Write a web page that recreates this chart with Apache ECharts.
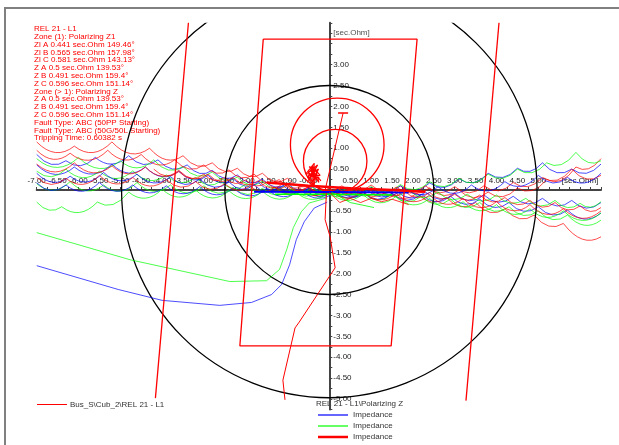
<!DOCTYPE html>
<html><head><meta charset="utf-8">
<script src="https://cdn.jsdelivr.net/npm/echarts/dist/echarts.min.js"></script>
<style>html,body{margin:0;padding:0;background:#fff}#c{width:619px;height:445px}</style>
</head><body><div id="c"></div>
<script>
// ---------- text ----------
const infoLines = [
  'REL 21 - L1',
  'Zone (1): Polarizing Z1',
  'Zl A 0.441 sec.Ohm 149.46°',
  'Zl B 0.565 sec.Ohm 157.98°',
  'Zl C 0.581 sec.Ohm 143.13°',
  'Z A 0.5 sec.Ohm 139.53°',
  'Z B 0.491 sec.Ohm 159.4°',
  'Z C 0.596 sec.Ohm 151.14°',
  'Zone (> 1): Polarizing Z',
  'Z A 0.5 sec.Ohm 139.53°',
  'Z B 0.491 sec.Ohm 159.4°',
  'Z C 0.596 sec.Ohm 151.14°',
  'Fault Type: ABC (50PP Starting)',
  'Fault Type: ABC (50G/50L Starting)',
  'Tripping Time: 0.60382 s'
];
const unitLabel = '[sec.Ohm]';
const legendBus = 'Bus_S\\Cub_2\\REL 21 - L1';
const legendGroup = 'REL 21 - L1\\Polarizing Z';
const legendItems = ['Impedance', 'Impedance', 'Impedance'];

// ---------- axes ----------
const xRange = [-7, 6.5];
const yRange = [-5.25, 4.0];
const xLastLabel = 5;      // numeric labels up to here
const xUnitAt = 6;         // unit text at this tick
const yLastLabel = 3;
const yUnitAt = 3.75;

// ---------- characteristics (R, X in sec.Ohm) ----------
const blackCircles = [[0, 0, 2.5], [0, 0, 4.97]];          // [cR, cX, radius]
const redCircles = [[0.19, 1.08, 1.12], [0.14, 0.69, 0.76]];
const quadChar = [[-1.58, 3.61], [2.1, 3.61], [1.48, -3.73], [-2.14, -3.73], [-1.58, 3.61]];
const blinderLeft = [[-3.37, 4.0], [-4.16, -4.98]];
const blinderRight = [[4.06, 4.0], [3.27, -5.04]];
const redAngle = [[-0.1, 0.0], [0.33, 1.84]];
const redAngleCap = [[0.21, 1.84], [0.45, 1.84]];

// ---------- impedance trajectories (cusp points) ----------
const redTrajA = [[-7,0.95],[-6.2,0.88],[-5.3,0.95],[-4.5,0.85],[-3.7,0.72],[-3.0,0.6],[-2.4,0.48],[-1.8,0.38],[-1.2,0.25],[-0.6,0.12],[0,0.05],[0.7,0.02],[1.4,-0.02],[2.1,-0.08],[2.8,-0.18],[3.5,-0.3],[4.2,-0.45],[4.9,-0.6],[5.6,-0.8],[6.5,-1.12]];
const redTrajB = [[-7,0.62],[-6.1,0.65],[-5.2,0.58],[-4.4,0.55],[-3.6,0.47],[-2.9,0.38],[-2.3,0.3],[-1.7,0.22],[-1.1,0.15],[-0.5,0.08],[0.2,0.04],[0.9,0.05],[1.6,0.07],[2.3,0.1],[3.0,0.08],[3.7,0.1],[4.4,0.18],[5.1,0.3],[5.8,0.5],[6.5,0.35]];
const redTrajC = [[-7,0.3],[-6.3,0.28],[-5.5,0.35],[-4.7,0.3],[-3.9,0.25],[-3.2,0.2],[-2.5,0.15],[-1.9,0.1],[-1.3,0.07],[-0.7,0.04],[0,0.0],[0.8,-0.03],[1.6,-0.08],[2.4,-0.12],[3.2,-0.2],[4.0,-0.28],[4.8,-0.35],[5.6,-0.45],[6.5,-0.5]];
const redTrajD = [[-7,1.15],[-6.1,1.05],[-5.2,1.15],[-4.3,1.0],[-3.5,0.82],[-2.8,0.65],[-2.2,0.52],[-1.6,0.4],[-1.0,0.28],[-0.4,0.15],[0.3,0.1],[1.0,0.12],[1.7,0.1],[2.4,0.05],[3.1,0.0],[3.8,-0.05],[4.5,0.05],[5.2,0.25],[5.9,0.55],[6.5,0.75]];
const redTrajE = [[-4.2,0.5],[-3.6,0.44],[-3.0,0.38],[-2.5,0.3],[-2.0,0.24],[-1.5,0.18],[-1.0,0.12],[-0.5,0.07],[0,0.04],[0.6,0.02],[1.2,0.0],[1.8,-0.03],[2.4,-0.06],[3.0,-0.1],[3.6,-0.12],[4.2,-0.18],[4.8,-0.25],[5.4,-0.3],[6.0,-0.38],[6.5,-0.42]];
const blueTrajA = [[-7,0.85],[-6.3,0.7],[-5.6,0.78],[-4.8,0.82],[-4.1,0.72],[-3.4,0.6],[-2.8,0.47],[-2.2,0.36],[-1.6,0.26],[-1.0,0.16],[-0.4,0.08],[0.3,0.04],[1.0,0.06],[1.7,0.1],[2.4,0.17],[3.1,0.27],[3.8,0.4],[4.5,0.52],[5.1,0.65],[5.8,0.5],[6.5,0.62]];
const blueTrajB = [[-7,0.4],[-6.2,0.33],[-5.4,0.42],[-4.6,0.38],[-3.8,0.32],[-3.1,0.26],[-2.4,0.19],[-1.8,0.12],[-1.2,0.07],[-0.6,0.03],[0.1,-0.02],[0.8,-0.05],[1.5,-0.08],[2.2,-0.1],[2.9,-0.15],[3.6,-0.22],[4.3,-0.3],[5.0,-0.4],[5.7,-0.48],[6.5,-0.55]];
const blueTrajC = [[-7,0.17],[-6.3,0.12],[-5.5,0.18],[-4.7,0.12],[-3.9,0.1],[-3.1,0.08],[-2.3,0.05],[-1.5,0.03],[-0.7,0.01],[0.2,0.0],[1.0,0.02],[1.8,0.05],[2.6,0.08],[3.4,0.12],[4.2,0.2],[5.0,0.35],[5.7,0.3],[6.5,0.4]];
const blueTrajD = [[-7,0.6],[-6.1,0.55],[-5.2,0.62],[-4.4,0.55],[-3.6,0.45],[-2.9,0.35],[-2.3,0.27],[-1.7,0.18],[-1.1,0.1],[-0.5,0.05],[0.2,0.02],[0.9,0.0],[1.6,-0.02],[2.3,-0.05],[3.0,-0.08],[3.7,-0.12],[4.4,-0.15],[5.1,-0.2],[5.8,-0.25],[6.5,-0.3]];
const greenTrajA = [[-7,0.75],[-6.0,0.78],[-5.0,0.7],[-4.2,0.72],[-3.5,0.56],[-2.8,0.43],[-2.2,0.31],[-1.6,0.21],[-1.0,0.13],[-0.4,0.06],[0.3,0.05],[1.0,0.08],[1.7,0.13],[2.4,0.2],[3.1,0.28],[3.8,0.38],[4.5,0.5],[5.2,0.65],[5.9,0.9],[6.5,0.7]];
const greenTrajB = [[-7,0.45],[-6.3,0.5],[-5.5,0.45],[-4.7,0.46],[-3.9,0.36],[-3.2,0.3],[-2.6,0.21],[-2.0,0.13],[-1.3,0.07],[-0.6,0.02],[0.1,-0.03],[0.8,-0.06],[1.5,-0.1],[2.2,-0.15],[2.9,-0.22],[3.6,-0.3],[4.3,-0.4],[5.0,-0.5],[5.7,-0.6],[6.5,-0.72]];
const greenTrajC = [[-7,-0.29],[-6.4,-0.4],[-5.55,-0.29],[-4.8,-0.05],[-4.0,0.02],[-3.2,0.0],[-2.4,-0.02],[-1.6,-0.03],[-0.8,-0.05],[0,-0.04],[0.8,-0.1],[1.6,-0.15],[2.4,-0.2],[3.2,-0.28],[4.0,-0.35],[4.8,-0.45],[5.6,-0.5],[6.5,-0.55]];
const greenTrajD = [[-7,0.15],[-6.2,0.2],[-5.4,0.12],[-4.6,0.18],[-3.8,0.12],[-3.0,0.1],[-2.3,0.06],[-1.6,0.04],[-0.9,0.02],[-0.2,0.0],[0.5,0.0],[1.2,0.02],[1.9,0.0],[2.6,-0.05],[3.3,-0.1],[4.0,-0.12],[4.7,-0.2],[5.4,-0.25],[6.0,-0.32],[6.5,-0.28]];

const centerRed = [[-1.5,0.18],[-0.5,0.1],[0.5,0.04],[1.5,0.0],[2.3,-0.04]];
const centerBlue = [[-1.8,-0.04],[0,-0.05],[1.9,-0.06]];
const centerGreen = [[-1.3,-0.1],[0,-0.1],[1.5,-0.12]];
const blueSwing = [[-7.0,-1.81],[-5.05,-2.38],[-4.0,-2.64],[-2.62,-2.76],[-1.86,-2.69],[-1.38,-2.5],[-1.14,-2.26],[-0.95,-1.79],[-0.79,-1.19],[-0.6,-0.76],[-0.36,-0.43],[-0.05,-0.29]];
const greenSwing = [[-7.0,-1.02],[-4.76,-1.67],[-2.38,-2.19],[-1.5,-2.17],[-1.19,-1.9],[-1.02,-1.43],[-0.86,-0.9],[-0.67,-0.52],[-0.48,-0.31],[-0.05,-0.19]];
const redFault = [[-0.07,-0.07],[-0.1,-0.71],[0.02,-1.12],[0.07,-1.43],[0.14,-1.86],[-0.72,-3.16],[-0.82,-3.3],[-1.11,-4.55],[-1.06,-5.02]];
const redBlob = [[-0.5,0.22],[-0.35,0.55],[-0.45,0.28],[-0.28,0.6],[-0.5,0.42],[-0.3,0.25],[-0.42,0.58],[-0.22,0.35],[-0.52,0.3],[-0.33,0.5],[-0.25,0.18],[-0.46,0.48],[-0.24,0.28],[-0.55,0.4],[-0.36,0.64],[-0.4,0.18],[-0.26,0.5],[-0.5,0.34],[-0.36,0.14],[-0.3,0.45],[-0.48,0.56],[-0.2,0.22]];
const redBelow = [[0,-0.05],[0.25,-0.3],[0.5,-0.2],[0.75,-0.3],[1.0,-0.2],[1.25,-0.28],[1.5,-0.22],[1.9,-0.35]];
const greenBelow = [[0.05,-0.05],[0.5,-0.3],[1.07,-0.42]];

// ---------- build ----------
const RED = '#ff0000', BLUE = '#0000ff', GREEN = '#00ff00';
function segs(tr) { return tr.slice(1).map((p, i) => [tr[i][0], tr[i][1], p[0], p[1]]); }
function scallopRender(color, width, opacity) {
  return function (params, api) {
    const a = api.coord([api.value(0), api.value(1)]);
    const b = api.coord([api.value(2), api.value(3)]);
    const len = Math.hypot(b[0] - a[0], b[1] - a[1]);
    return {
      type: 'bezierCurve',
      shape: { x1: a[0], y1: a[1], x2: b[0], y2: b[1], cpx1: (a[0] + b[0]) / 2, cpy1: (a[1] + b[1]) / 2 + len * 0.45 },
      style: { stroke: color, lineWidth: width, fill: null, opacity: opacity }
    };
  };
}
function scallopSeries(tr, color) {
  return { type: 'custom', clip: true, silent: true, data: segs(tr), encode: { x: [0, 2], y: [1, 3] },
    renderItem: scallopRender(color, 1, 0.7) };
}
function circleSeries(list, color, width) {
  return { type: 'custom', clip: true, silent: true, data: list, encode: { x: 0, y: 1 },
    renderItem: function (params, api) {
      const c = api.coord([api.value(0), api.value(1)]);
      const r = api.size([api.value(2), 0])[0];
      return { type: 'circle', shape: { cx: c[0], cy: c[1], r: r }, style: { stroke: color, fill: null, lineWidth: width } };
    } };
}
function lineSeries(data, color, width, opacity) {
  return { type: 'line', data: data, symbol: 'none', silent: true, clip: true,
    lineStyle: { color: color, width: width, opacity: opacity == null ? 1 : opacity } };
}

const series = [
  scallopSeries(redTrajD, RED), scallopSeries(blueTrajA, BLUE), scallopSeries(greenTrajA, GREEN),
  scallopSeries(redTrajA, RED), scallopSeries(blueTrajD, BLUE), scallopSeries(greenTrajB, GREEN),
  scallopSeries(blueTrajB, BLUE), scallopSeries(redTrajB, RED), scallopSeries(greenTrajD, GREEN),
  scallopSeries(blueTrajC, BLUE), scallopSeries(greenTrajC, GREEN),
  scallopSeries(redTrajC, RED), scallopSeries(redTrajE, RED),
  lineSeries(blueSwing, BLUE, 1, 0.7), lineSeries(greenSwing, GREEN, 1, 0.7),
  lineSeries(centerGreen, GREEN, 1.5), lineSeries(centerBlue, BLUE, 2), lineSeries(centerRed, RED, 2.5),
  lineSeries(greenBelow, GREEN, 1, 0.8), lineSeries(redBelow, RED, 1, 0.8),
  circleSeries(blackCircles, '#000', 1.3),
  circleSeries(redCircles, RED, 1.3),
  lineSeries(quadChar, RED, 1.3),
  lineSeries(blinderLeft, RED, 1.3), lineSeries(blinderRight, RED, 1.3),
  lineSeries(redAngle, RED, 1), lineSeries(redAngleCap, RED, 1.5),
  lineSeries(redFault, RED, 1), lineSeries(redBlob, RED, 1.2),
  { type: 'scatter', silent: true, symbolSize: 0, data: [[0, yUnitAt]],
    label: { show: true, position: 'right', distance: 4, formatter: unitLabel, fontFamily: 'Liberation Sans, Arial', fontSize: 8, color: '#222' } }
];

const S = 41.8;
const X0 = 329.3, Y0 = 190;
const chart = echarts.init(document.getElementById('c'), null, { renderer: 'canvas' });
const gridLeft = X0 + xRange[0] * S;
const gridTop = Y0 - yRange[1] * S;
const gridH = (yRange[1] - yRange[0]) * S;
const gridBottomY = gridTop + gridH;
const axisFont = { fontFamily: 'Liberation Sans, Arial', fontSize: 8, color: '#222' };
chart.setOption({
  animation: false,
  backgroundColor: '#fff',
  grid: { left: gridLeft, top: gridTop, width: (xRange[1] - xRange[0]) * S, height: gridH, containLabel: false },
  xAxis: {
    type: 'value', min: xRange[0], max: xRange[1], interval: 0.25,
    position: 'bottom', offset: -(gridBottomY - Y0),
    axisLine: { onZero: false, lineStyle: { color: '#444', width: 2 } },
    axisTick: { inside: true, length: 3, lineStyle: { color: '#444', width: 1 } },
    splitLine: { show: false },
    axisLabel: Object.assign({ inside: true, margin: 5, showMinLabel: true, showMaxLabel: true,
      formatter: function (v) {
        if (Math.abs(v - xUnitAt) < 1e-9) return unitLabel;
        if (v === 0 || v > xLastLabel || Math.abs(v * 2 - Math.round(v * 2)) > 1e-9) return '';
        return v.toFixed(2);
      } }, axisFont)
  },
  yAxis: {
    type: 'value', min: yRange[0], max: yRange[1], interval: 0.25,
    position: 'left', offset: -(X0 - gridLeft),
    axisLine: { onZero: false, lineStyle: { color: '#444', width: 2 } },
    axisTick: { inside: true, length: 3, lineStyle: { color: '#444', width: 1 } },
    splitLine: { show: false },
    axisLabel: Object.assign({ inside: true, margin: 4,
      formatter: function (v) {
        if (v === 0 || v > yLastLabel || Math.abs(v * 2 - Math.round(v * 2)) > 1e-9) return '';
        return v.toFixed(2);
      } }, axisFont)
  },
  graphic: [
    { type: 'polyline', silent: true, shape: { points: [[5, 445], [5, 8], [619, 8]] }, style: { stroke: '#808080', lineWidth: 2, fill: null } },
    { type: 'text', silent: true, left: 34, top: 25, style: { text: infoLines.join('\n'), fill: RED, font: '8px "Liberation Sans", Arial', lineHeight: 7.8 } },
    { type: 'line', silent: true, shape: { x1: 37, y1: 404.5, x2: 67, y2: 404.5 }, style: { stroke: RED, lineWidth: 1 } },
    { type: 'text', silent: true, x: 70, y: 404.5, style: { text: legendBus, fill: '#333', font: '8px "Liberation Sans", Arial', verticalAlign: 'middle' } },
    { type: 'text', silent: true, x: 316, y: 404, style: { text: legendGroup, fill: '#333', font: '8px "Liberation Sans", Arial', verticalAlign: 'middle' } },
    { type: 'line', silent: true, shape: { x1: 318, y1: 415, x2: 348, y2: 415 }, style: { stroke: BLUE, lineWidth: 1.2 } },
    { type: 'text', silent: true, x: 353, y: 415, style: { text: legendItems[0], fill: '#333', font: '8px "Liberation Sans", Arial', verticalAlign: 'middle' } },
    { type: 'line', silent: true, shape: { x1: 318, y1: 426, x2: 348, y2: 426 }, style: { stroke: GREEN, lineWidth: 1.2 } },
    { type: 'text', silent: true, x: 353, y: 426, style: { text: legendItems[1], fill: '#333', font: '8px "Liberation Sans", Arial', verticalAlign: 'middle' } },
    { type: 'line', silent: true, shape: { x1: 318, y1: 437, x2: 348, y2: 437 }, style: { stroke: RED, lineWidth: 2.5 } },
    { type: 'text', silent: true, x: 353, y: 437, style: { text: legendItems[2], fill: '#333', font: '8px "Liberation Sans", Arial', verticalAlign: 'middle' } }
  ],
  series: series
});
</script></body></html>
